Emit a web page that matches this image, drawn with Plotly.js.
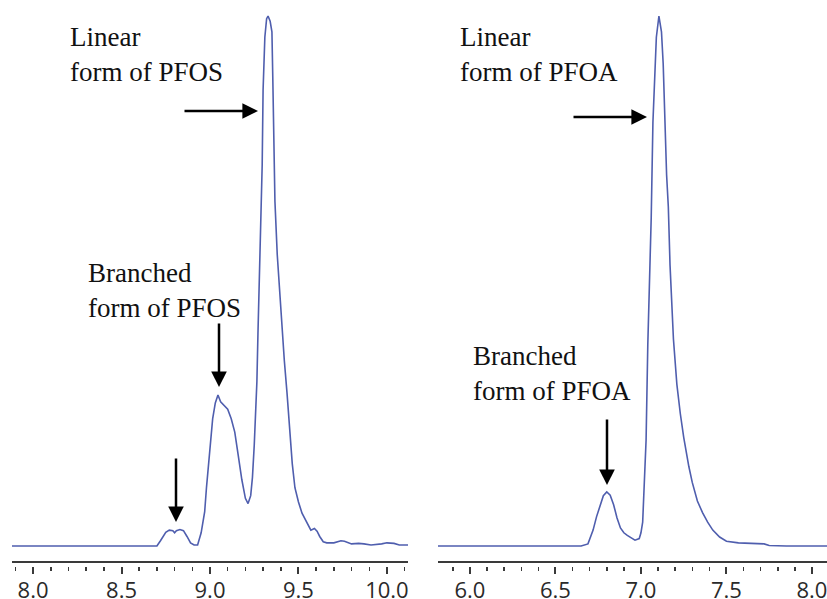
<!DOCTYPE html>
<html>
<head>
<meta charset="utf-8">
<script src="https://cdn.plot.ly/plotly-3.0.1.min.js"></script>
<style>html,body{margin:0;padding:0;background:#fff}#chart{width:827px;height:599px}</style>
</head>
<body>
<div id="chart"></div>
<script>
// PFOS chromatogram (retention time, min / relative intensity, %)
const pfosTime = [7.88, 8.0, 8.3, 8.5, 8.70, 8.72, 8.75, 8.77, 8.79, 8.80, 8.81, 8.83, 8.85, 8.87, 8.89, 8.91, 8.93, 8.95, 8.97, 8.98, 8.99, 9.00, 9.015, 9.03, 9.045, 9.06, 9.08, 9.10, 9.12, 9.14, 9.16, 9.18, 9.20, 9.215, 9.23, 9.24, 9.25, 9.26, 9.265, 9.271, 9.28, 9.29, 9.295, 9.30, 9.31, 9.32, 9.328, 9.34, 9.35, 9.355, 9.36, 9.367, 9.38, 9.395, 9.41, 9.42, 9.435, 9.45, 9.465, 9.48, 9.50, 9.52, 9.55, 9.57, 9.59, 9.605, 9.62, 9.64, 9.66, 9.70, 9.74, 9.76, 9.80, 9.84, 9.87, 9.91, 9.97, 10.00, 10.04, 10.07, 10.12];
const pfosSignal = [0, 0, 0, 0, 0, 1.0, 2.6, 3.0, 2.9, 2.5, 2.9, 3.1, 2.9, 1.8, 0.6, 0.2, 0.2, 2.5, 6.5, 11, 15, 19, 24, 27, 28.5, 27.2, 26.5, 25.8, 24, 21.5, 17, 12.5, 9, 8.0, 9.5, 13, 19, 26, 31, 40, 52, 63, 72, 86, 96, 99.5, 100, 99, 97, 88, 78, 65, 55, 47, 40, 35, 29, 21.5, 15.5, 11, 8.3, 6.2, 4.2, 3.0, 3.3, 2.8, 1.8, 0.8, 0.6, 0.6, 1.0, 0.9, 0.4, 0.5, 0.4, 0.2, 0.4, 0.6, 0.5, 0.2, 0.2];

// PFOA chromatogram
const pfoaTime = [5.81, 6.0, 6.3, 6.5, 6.65, 6.69, 6.72, 6.74, 6.76, 6.78, 6.80, 6.82, 6.84, 6.86, 6.88, 6.90, 6.92, 6.94, 6.965, 6.99, 7.00, 7.01, 7.02, 7.03, 7.04, 7.05, 7.06, 7.07, 7.08, 7.09, 7.105, 7.12, 7.13, 7.14, 7.15, 7.16, 7.17, 7.19, 7.21, 7.23, 7.25, 7.28, 7.30, 7.33, 7.36, 7.39, 7.42, 7.46, 7.50, 7.57, 7.65, 7.72, 7.75, 7.85, 8.09];
const pfoaSignal = [0, 0, 0, 0, 0, 0.4, 3.0, 5.5, 7.6, 9.5, 10.2, 9.6, 7.8, 5.3, 3.4, 2.5, 2.0, 1.6, 1.1, 1.4, 2.5, 4.5, 12, 20, 38, 50, 62, 80, 90, 96, 100, 97, 91, 80, 70, 64, 53, 39, 30.5, 25, 20.5, 15, 12, 8.5, 6.3, 4.5, 3.0, 1.7, 0.9, 0.6, 0.5, 0.4, 0.1, 0, 0];

const labels = {
  pfosLinear: 'Linear<br>form of PFOS',
  pfosBranched: 'Branched<br>form of PFOS',
  pfoaLinear: 'Linear<br>form of PFOA',
  pfoaBranched: 'Branched<br>form of PFOA'
};

const W = 827, PB = 566; // plot area bottom pixel (plot top at 0)
const px = v => v / W;
const py = v => (PB - v) / PB;

const lineStyle = {color: '#4f5eae', width: 1.6};
const traces = [
  {x: pfosTime, y: pfosSignal, type: 'scatter', mode: 'lines', line: lineStyle, xaxis: 'x', yaxis: 'y', hoverinfo: 'skip'},
  {x: pfoaTime, y: pfoaSignal, type: 'scatter', mode: 'lines', line: lineStyle, xaxis: 'x2', yaxis: 'y2', hoverinfo: 'skip'}
];

const xCommon = {
  showgrid: false, zeroline: false, showline: false,
  ticks: 'outside', ticklen: 7, tickwidth: 2, tickcolor: '#3a3a3a',
  dtick: 0.5, tickformat: '.1f', ticklabelstandoff: -2, ticklabeloverflow: 'allow',
  tickfont: {family: 'Open Sans, DejaVu Sans, sans-serif', size: 22, color: '#2a2a2a'},
  minor: {dtick: 0.1, ticks: 'outside', ticklen: 4, tickwidth: 1.5, tickcolor: '#3a3a3a'},
  fixedrange: true
};
const yCommon = {range: [-3.77, 103.02], visible: false, showgrid: false, zeroline: false, fixedrange: true};

const textFont = {family: 'Liberation Serif, Times New Roman, serif', size: 27, color: '#111'};
function txt(t, x, y) {
  return {text: t, xref: 'paper', yref: 'paper', x: px(x), y: py(y), xanchor: 'left', yanchor: 'top', align: 'left', showarrow: false, font: textFont};
}
function arr(hx, hy, ax, ay) {
  return {text: '', xref: 'paper', yref: 'paper', x: px(hx), y: py(hy), ax: ax, ay: ay, showarrow: true, arrowhead: 2, arrowsize: 1.25, arrowwidth: 2.5, arrowcolor: '#000', standoff: 0, startstandoff: 0};
}

const layout = {
  width: 827, height: 599,
  margin: {l: 0, r: 0, t: 0, b: 33, pad: 0},
  paper_bgcolor: '#fff', plot_bgcolor: '#fff',
  showlegend: false,
  xaxis: Object.assign({}, xCommon, {domain: [12 / W, 408 / W], range: [7.881, 10.119], anchor: 'y'}),
  yaxis: Object.assign({}, yCommon, {anchor: 'x'}),
  xaxis2: Object.assign({}, xCommon, {domain: [438 / W, 1], range: [5.813, 8.088], anchor: 'y2'}),
  yaxis2: Object.assign({}, yCommon, {anchor: 'x2'}),
  shapes: [
    {type: 'line', xref: 'x domain', yref: 'paper', x0: 0, x1: 1, y0: py(562), y1: py(562), line: {color: '#3a3a3a', width: 2}},
    {type: 'line', xref: 'x2 domain', yref: 'paper', x0: 0, x1: 1, y0: py(562), y1: py(562), line: {color: '#3a3a3a', width: 2}}
  ],
  annotations: [
    txt(labels.pfosLinear, 68, 20),
    txt(labels.pfosBranched, 86, 256),
    txt(labels.pfoaLinear, 458, 20),
    txt(labels.pfoaBranched, 471, 339),
    arr(258, 111, -75, 0),
    arr(219, 387, 0, -65),
    arr(176, 522, 0, -65),
    arr(647, 117, -75, 0),
    arr(607, 485, 0, -67)
  ]
};

Plotly.newPlot('chart', traces, layout, {staticPlot: true, displayModeBar: false});
</script>
</body>
</html>
